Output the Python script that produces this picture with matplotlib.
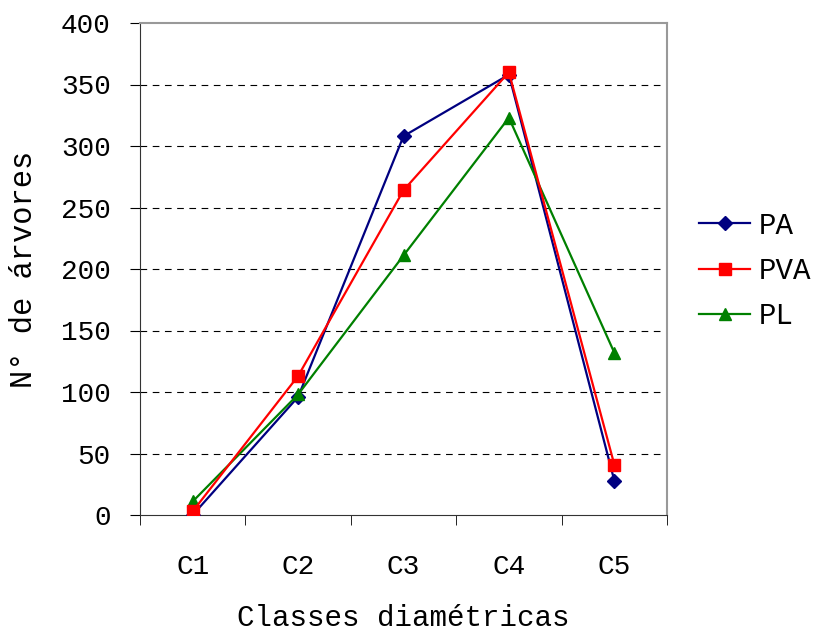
import matplotlib
matplotlib.use("Agg")
import matplotlib.pyplot as plt
import numpy as np

categories = ["C1", "C2", "C3", "C4", "C5"]
pa = [0, 96, 308, 358, 28]
pva = [3, 113, 264, 360, 41]
pl = [11, 98, 211, 323, 132]

plt.rcParams['font.family'] = ['Liberation Mono', 'DejaVu Sans Mono']
fig = plt.figure(figsize=(8.17, 6.30), dpi=100)
ax = fig.add_axes([140/817, 115/630, (667-140)/817, (515-23)/630])

x = np.arange(len(categories))
ax.plot(x, pa, color='#000080', marker='D', markersize=7, lw=1.6, label='PA', zorder=3)
ax.plot(x, pva, color='#FF0000', marker='s', markersize=8.5, lw=1.6, label='PVA', zorder=4)
ax.plot(x, pl, color='#008000', marker='^', markersize=9, lw=1.6, label='PL', zorder=3)

ax.set_xlim(-0.5, 4.5)
ax.set_ylim(0, 400)
ax.set_yticks(range(0, 401, 50))
ax.set_xticks(x)
ax.set_xticklabels(categories)
ax.set_xticks(np.arange(-0.5, 5, 1), minor=True)
ax.tick_params(axis='x', which='major', length=0, pad=28, labelsize=20)
ax.tick_params(axis='x', which='minor', length=7, direction='out', color='black')
ax.tick_params(axis='y', length=7, direction='out', labelsize=20, pad=14)
for yv in range(50, 400, 50):
    ax.axhline(yv, color='black', lw=0.8, ls=(0, (6, 5)), zorder=1)
ax.spines['top'].set_color('#999999')
ax.spines['right'].set_color('#999999')
ax.spines['top'].set_linewidth(1.5)
ax.spines['right'].set_linewidth(1.5)
ax.spines['left'].set_color('#333333')
ax.spines['bottom'].set_color('#333333')

ax.set_xlabel('Classes diamétricas', fontsize=21, labelpad=17)
ax.set_ylabel('N° de árvores', fontsize=22, labelpad=16)

leg = fig.legend(loc='center left', bbox_to_anchor=(699/817, (630-271)/630), frameon=False,
                 fontsize=21, handlelength=1.75, labelspacing=0.6, handletextpad=0.3,
                 borderpad=0, borderaxespad=0)

fig.savefig('out.png', dpi=100)
